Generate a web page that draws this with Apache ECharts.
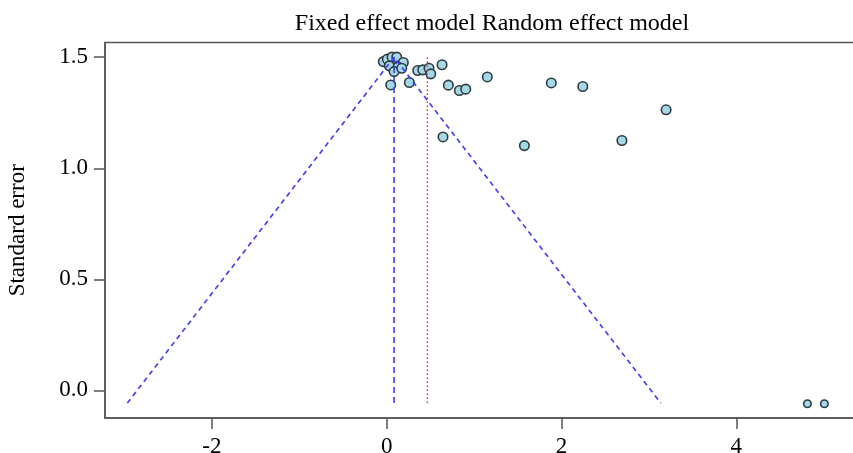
<!DOCTYPE html>
<html>
<head>
<meta charset="utf-8">
<script src="https://cdn.jsdelivr.net/npm/echarts@6/dist/echarts.min.js"></script>
<style>
html,body{margin:0;padding:0;background:#fff;}
#c{width:853px;height:453px;}
</style>
</head>
<body>
<div id="c"></div>
<script>
// Study effects (x) and their standard errors (y)
var effects = [-0.038, 0.008, 0.062, 0.116, 0.191, 0.031, 0.130, 0.085, 0.173, 0.047, 0.260, 0.356, 0.413,
               0.485, 0.505, 0.634, 0.706, 0.832, 0.905, 1.152, 1.884, 2.244, 3.197, 0.645, 1.576, 2.692,
               4.814, 5.008];
var stdErrors = [1.480, 1.491, 1.500, 1.500, 1.476, 1.461, 1.455, 1.435, 1.450, 1.375, 1.386, 1.440, 1.443,
                 1.450, 1.425, 1.466, 1.374, 1.350, 1.356, 1.411, 1.384, 1.368, 1.263, 1.141, 1.102, 1.125,
                 -0.060, -0.060];
var fixedEffect = 0.085;
var randomEffect = 0.466;
var seApex = 1.50;
var seBase = -0.057;
var zCrit = 1.96;
var xTicks = [-2, 0, 2, 4];
var yTicks = [0, 0.5, 1.0, 1.5];
var titleText = 'Fixed effect model Random effect model';
var yName = 'Standard error';

var points = effects.map(function (e, i) { return [e, stdErrors[i]]; });
var half = zCrit * (seApex - seBase);
var funnel = [[fixedEffect - half, seBase], [fixedEffect, seApex], [fixedEffect + half, seBase]];
var fixedLine = [[fixedEffect, seBase], [fixedEffect, seApex]];
var randomLine = [[randomEffect, seBase], [randomEffect, seApex]];

var serif = 'Liberation Serif, Times New Roman, serif';
var chart = echarts.init(document.getElementById('c'), null, {renderer: 'canvas'});
chart.setOption({
  animation: false,
  backgroundColor: '#fff',
  title: {
    text: titleText, left: 487, top: 7, textAlign: 'center',
    textStyle: {fontFamily: serif, fontSize: 24, fontWeight: 'normal', color: '#000'}
  },
  grid: {left: 105, top: 42.5, right: -10, bottom: 35, containLabel: false, outerBoundsMode: 'none',
    show: true, borderColor: '#555', borderWidth: 1.5},
  xAxis: {
    type: 'value', min: -3.222, max: 5.45,
    splitLine: {show: false},
    axisLine: {show: true, onZero: false, lineStyle: {color: '#555', width: 1.5}},
    axisTick: {show: true, length: 11, inside: false, customValues: xTicks, lineStyle: {color: '#555', width: 1.5}},
    axisLabel: {customValues: xTicks, margin: 17, fontFamily: serif, fontSize: 23, color: '#000'}
  },
  yAxis: {
    type: 'value', min: -0.124, max: 1.566,
    name: yName, nameLocation: 'middle', nameGap: 76, nameRotate: 90,
    nameTextStyle: {fontFamily: serif, fontSize: 23, color: '#000'},
    splitLine: {show: false},
    axisLine: {show: true, onZero: false, lineStyle: {color: '#555', width: 1.5}},
    axisTick: {show: true, length: 11, customValues: yTicks, lineStyle: {color: '#555', width: 1.5}},
    axisLabel: {customValues: yTicks, margin: 17, fontFamily: serif, fontSize: 23, color: '#000',
      formatter: function (v) { return v.toFixed(1); }}
  },
  series: [
    {type: 'scatter', data: points, z: 2,
      symbol: 'circle',
      symbolSize: function (d) { return d[1] < 0 ? 7.5 : 9.5; },
      itemStyle: {color: '#a6d7e6', borderColor: '#2e3b40', borderWidth: 1.6, opacity: 1}},
    {type: 'line', data: funnel, z: 3, showSymbol: false, symbol: 'none', silent: true,
      itemStyle: {color: '#3a3aff'},
      lineStyle: {color: '#3a3aff', width: 1.6, type: [5, 4]}},
    {type: 'line', data: fixedLine, z: 3, showSymbol: false, symbol: 'none', silent: true,
      itemStyle: {color: '#3a3aff'},
      lineStyle: {color: '#3a3aff', width: 1.6, type: [6, 4]}},
    {type: 'line', data: randomLine, z: 3, showSymbol: false, symbol: 'none', silent: true,
      itemStyle: {color: '#ff2020'},
      lineStyle: {color: '#ff2020', width: 1.4, type: [1.5, 2.5], cap: 'butt'}}
  ]
});
</script>
</body>
</html>
